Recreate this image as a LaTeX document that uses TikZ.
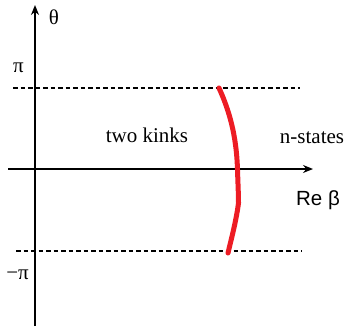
\documentclass[tikz,border=0pt]{standalone}
\usepackage{fontspec}
\setmainfont{Liberation Serif}
\newfontfamily\sansf{Liberation Sans}
\usetikzlibrary{arrows.meta}
\definecolor{kinkred}{RGB}{237,28,36}
\tikzset{
  axis/.style={line width=2pt,-{Stealth[length=10pt,width=8pt]}},
  dashline/.style={line width=2pt,dash pattern=on 4.5pt off 3pt},
  lbl/.style={inner sep=0pt,font=\fontsize{21}{25}\selectfont},
  curve/.style={line width=5pt,kinkred,line cap=round,line join=round}
}
\begin{document}
\begin{tikzpicture}[x=1pt,y=-1pt]
\useasboundingbox (0,0) rectangle (347,326);
% axes
\coordinate (vb) at (35,326);
\coordinate (vt) at (35,5);
\coordinate (hl) at (8,169);
\coordinate (hr) at (313,169);
\draw[axis] (vb) -- (vt);
\draw[axis] (hl) -- (hr);
% dashed lines
\coordinate (d1l) at (13,87.5);
\coordinate (d1r) at (300,87.5);
\coordinate (d2l) at (16,251);
\coordinate (d2r) at (302,251);
\draw[dashline] (d1l) -- (d1r);
\draw[dashline] (d2l) -- (d2r);
% labels
\node[lbl] (theta) at (54,17) {θ};
\node[lbl] (pi) at (18.5,68) {π};
\node[lbl] (mpi) at (17.5,275) {−π};
\node[lbl] (kinks) at (147,135) {two kinks};
\node[lbl] (nst) at (312,138) {n-states};
\node[lbl,font=\sansf\fontsize{20.5}{25}\selectfont] (reb) at (318,200) {Re β};
% red curve
\coordinate (c0) at (219,88);
\coordinate (c2) at (237.5,170);
\coordinate (c3) at (238.5,203);
\coordinate (c4) at (228,253);
\draw[curve] (c0) .. controls (229,110) and (236.5,135) .. (c2)
  .. controls (238,185) and (238.5,195) .. (c3)
  .. controls (236,222) and (231,240) .. (c4);
\end{tikzpicture}
\end{document}
